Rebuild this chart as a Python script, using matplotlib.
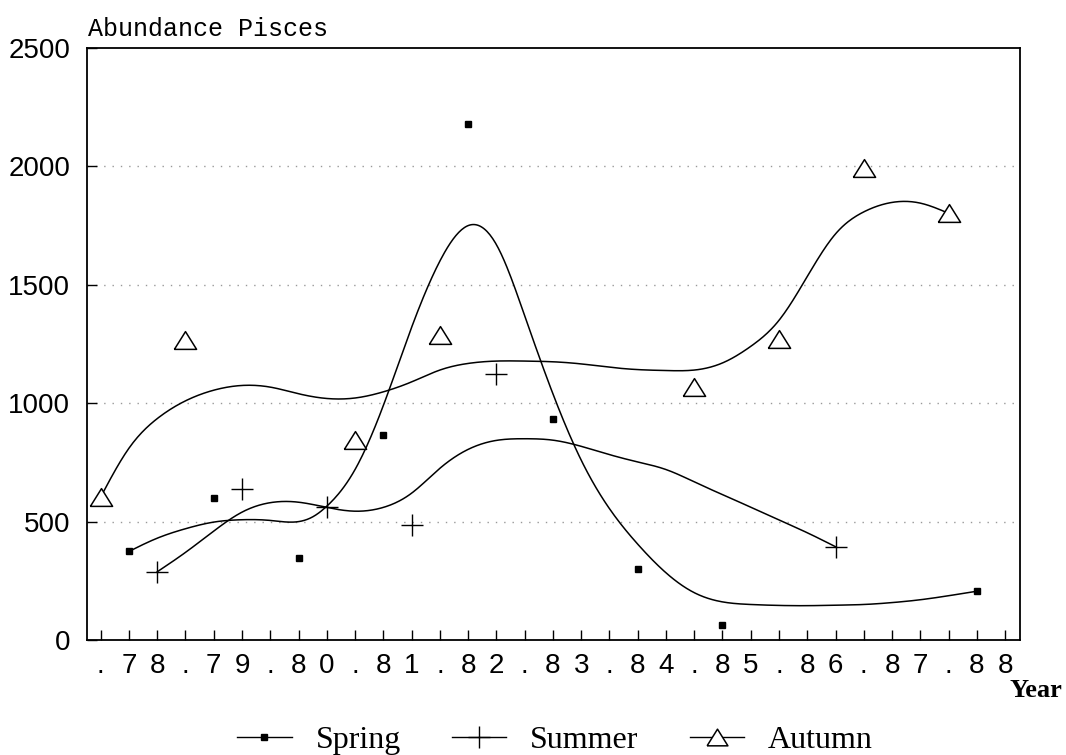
import numpy as np
import matplotlib
matplotlib.use("Agg")
import matplotlib.pyplot as plt
from matplotlib.lines import Line2D

# ---------------- data ----------------
years = ["78", "79", "80", "81", "82", "83", "84", "85", "86", "87", "88"]

# observations (position index along the axis: 3 slots per year: autumn, spring, summer)
spring_pos = [1, 4, 7, 10, 13, 16, 19, 22, 31]
spring_val = [374, 599, 347, 864, 2181, 932, 298, 63, 206]

summer_pos = [2, 5, 8, 11, 14, 26]
summer_val = [288, 639, 563, 484, 1122, 394]

autumn_pos = [0, 3, 9, 12, 21, 24, 27, 30]
autumn_val = [604, 1266, 846, 1286, 1070, 1270, 1993, 1804]

# smoothed trend curves at knots
spring_curve_pos = [1, 2, 3, 4, 5, 6, 7, 7.5, 8, 9, 10, 11, 12, 13, 14, 15, 16, 17,
                    18, 19, 20, 21, 22, 23, 24, 25, 26, 27, 28, 29, 30, 31]
spring_curve_val = [374, 430, 470, 498, 508, 505, 500, 520, 565, 720, 990, 1320, 1600,
                    1750, 1670, 1370, 1040, 760, 555, 405, 284, 200, 161, 150, 146,
                    145, 147, 150, 158, 170, 187, 206]

summer_curve_pos = [2, 3, 4, 5, 6, 7, 8, 9, 10, 11, 12, 13, 14, 15, 16, 17, 18, 19,
                    20, 21, 22, 23, 24, 25, 26]
summer_curve_val = [288, 370, 460, 540, 580, 582, 560, 544, 560, 620, 725, 805, 843,
                    850, 844, 818, 783, 752, 720, 668, 614, 561, 507, 453, 394]

autumn_curve_pos = list(range(0, 31))
autumn_curve_val = [604, 810, 935, 1010, 1055, 1075, 1068, 1040, 1020, 1022, 1048,
                    1090, 1140, 1168, 1178, 1178, 1175, 1166, 1152, 1142, 1138, 1140,
                    1170, 1240, 1350, 1535, 1715, 1808, 1848, 1845, 1802]

y_ticks = [0, 500, 1000, 1500, 2000, 2500]


def natural_spline(x, y, xs):
    x = np.asarray(x, float)
    y = np.asarray(y, float)
    n = len(x)
    h = np.diff(x)
    A = np.zeros((n, n))
    b = np.zeros(n)
    A[0, 0] = 1
    A[-1, -1] = 1
    for i in range(1, n - 1):
        A[i, i - 1] = h[i - 1]
        A[i, i] = 2 * (h[i - 1] + h[i])
        A[i, i + 1] = h[i]
        b[i] = 3 * ((y[i + 1] - y[i]) / h[i] - (y[i] - y[i - 1]) / h[i - 1])
    c = np.linalg.solve(A, b)
    bb = (y[1:] - y[:-1]) / h - h * (2 * c[:-1] + c[1:]) / 3
    d = (c[1:] - c[:-1]) / (3 * h)
    idx = np.clip(np.searchsorted(x, xs) - 1, 0, n - 2)
    dx = xs - x[idx]
    return y[idx] + bb[idx] * dx + c[idx] * dx ** 2 + d[idx] * dx ** 3


# ---------------- figure ----------------
fig = plt.figure(figsize=(10.66, 7.55), dpi=100)
ax = fig.add_axes([0.0816, 0.1523, 0.8753, 0.7841])

for cp, cv in [(spring_curve_pos, spring_curve_val),
               (summer_curve_pos, summer_curve_val),
               (autumn_curve_pos, autumn_curve_val)]:
    xs = np.linspace(cp[0], cp[-1], 600)
    ax.plot(xs, natural_spline(cp, cv, xs), color="black", lw=1.1, zorder=3)

tri = [(-1, -0.8), (1, -0.8), (0, 0.8), (-1, -0.8)]

ax.plot(spring_pos, spring_val, ls="none", marker="s", ms=5, color="black", zorder=4)
ax.plot(summer_pos, summer_val, ls="none", marker="+", ms=16, mew=1.0, color="black", zorder=4)
ax.plot(autumn_pos, autumn_val, ls="none", marker=tri, ms=16, mew=1.1,
        mfc="white", mec="black", zorder=4)

ax.set_xlim(-0.485, 32.53)
ax.set_ylim(0, 2500)

xlabels = []
for yv in years:
    xlabels += [".", yv[0], yv[1]]
ax.set_xticks(range(len(xlabels)))
ax.set_xticklabels(xlabels, fontfamily="Liberation Sans", fontsize=20)
ax.set_yticks(y_ticks)
ax.set_yticklabels([str(v) for v in y_ticks], fontfamily="Liberation Sans", fontsize=20)

ax.tick_params(axis="x", direction="in", length=7, width=1, pad=9, top=False)
ax.tick_params(axis="y", direction="in", length=7, width=1, pad=12, right=False)

for s in ax.spines.values():
    s.set_linewidth(1.3)

for gy in y_ticks[1:-1]:
    ax.axhline(gy, color="#999999", lw=1.0, ls=(0, (1, 5)), zorder=1)

fig.text(0.0825, 0.962, "Abundance Pisces", fontfamily="Liberation Mono",
         fontsize=18, ha="left", va="center")
fig.text(0.997, 0.086, "Year", fontfamily="Liberation Serif", fontweight="bold",
         fontsize=19, ha="right", va="center")

handles = [
    Line2D([], [], color="black", lw=1.0, marker="s", ms=5),
    Line2D([], [], color="black", lw=1.0, marker="+", ms=16, mew=1.0),
    Line2D([], [], color="black", lw=1.0, marker=tri, ms=15, mew=1.1, mfc="white", mec="black"),
]
fig.legend(handles, ["Spring", "Summer", "Autumn"], loc="center",
           bbox_to_anchor=(0.5206, 0.019), ncol=3, frameon=False,
           prop={"family": "Liberation Serif", "size": 23},
           handlelength=1.7, handletextpad=0.75, columnspacing=1.6, numpoints=1)

fig.savefig("out.png", dpi=100)
